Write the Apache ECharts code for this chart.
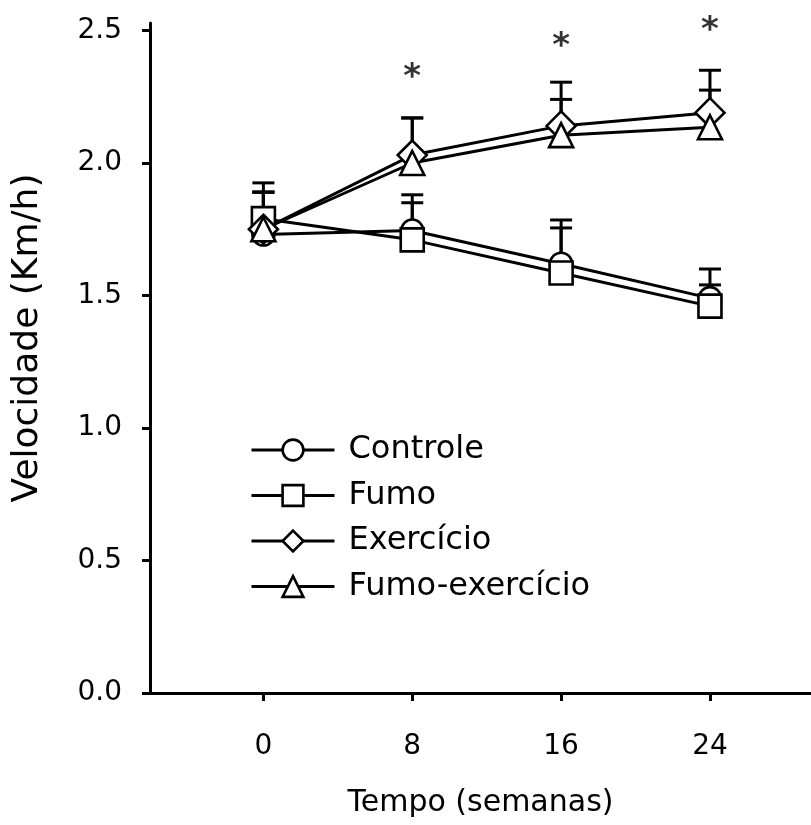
<!DOCTYPE html>
<html>
<head>
<meta charset="utf-8">
<script src="https://cdn.jsdelivr.net/npm/echarts@6/dist/echarts.min.js"></script>
<style>
  html, body { margin: 0; padding: 0; background: #fff; }
  #chart { width: 811px; height: 825px; }
</style>
</head>
<body>
<div id="chart"></div>
<script>
// Weeks of follow-up
const weeks = [0, 8, 16, 24];
const weekTicks = [0, 8, 16, 24];
const speedTicks = [0, 0.5, 1.0, 1.5, 2.0, 2.5];

// Mean treadmill speed (km/h) per group
const controle = [1.73, 1.745, 1.62, 1.49];
const fumo = [1.79, 1.71, 1.585, 1.46];
const exercicio = [1.75, 2.03, 2.14, 2.19];
const fumoExercicio = [1.75, 2.00, 2.105, 2.135];

// Upper error (standard error) per group
const controleErr = [0.16, 0.135, 0.165, 0.11];
const fumoErr = [0.135, 0.14, 0.17, 0.08];
const exercicioErr = [0.14, 0.14, 0.165, 0.16];
const fumoExercicioErr = [0.14, 0.17, 0.135, 0.14];

// Significance marks above the exercise groups
const signifWeeks = [8, 16, 24];
const signifLevel = [2.343, 2.46, 2.52];

const groups = [
  { name: 'Controle', values: controle, err: controleErr, symbol: 'circle', size: 22 },
  { name: 'Fumo', values: fumo, err: fumoErr, symbol: 'rect', size: 23 },
  { name: 'Exercício', values: exercicio, err: exercicioErr, symbol: 'diamond', size: 29 },
  { name: 'Fumo-exercício', values: fumoExercicio, err: fumoExercicioErr, symbol: 'triangle', size: 24 }
];

const FONT = 'DejaVu Sans';

function errorBarSeries(g) {
  return {
    type: 'custom',
    name: g.name + ' erro',
    z: 1,
    silent: true,
    data: weeks.map((w, i) => [w, g.values[i], g.values[i] + g.err[i]]),
    renderItem: function (params, api) {
      const base = api.coord([api.value(0), api.value(1)]);
      const top = api.coord([api.value(0), api.value(2)]);
      const half = 11;
      const st = { stroke: '#000', lineWidth: 3 };
      return {
        type: 'group',
        children: [
          { type: 'line', shape: { x1: base[0], y1: base[1], x2: top[0], y2: top[1] }, style: st },
          { type: 'line', shape: { x1: top[0] - half, y1: top[1], x2: top[0] + half, y2: top[1] }, style: st }
        ]
      };
    }
  };
}

function lineSeries(g) {
  return {
    type: 'line',
    name: g.name,
    z: 2,
    data: weeks.map((w, i) => [w, g.values[i]]),
    symbol: g.symbol,
    symbolSize: g.size,
    showAllSymbol: true,
    lineStyle: { color: '#000', width: 3 },
    itemStyle: { color: '#fff', borderColor: '#000', borderWidth: 2.6 },
    emphasis: { disabled: true },
    animation: false
  };
}

const series = [];
groups.forEach(g => series.push(errorBarSeries(g)));
groups.forEach(g => series.push(lineSeries(g)));
series.push({
  type: 'scatter',
  name: 'signif',
  z: 3,
  silent: true,
  symbolSize: 1,
  itemStyle: { color: 'rgba(0,0,0,0)' },
  data: signifWeeks.map((w, i) => [w, signifLevel[i]]),
  label: {
    show: true,
    position: 'inside',
    formatter: '*',
    color: '#000',
    fontFamily: FONT,
    fontWeight: 'bold',
    fontSize: 34,
    offset: [0, 6]
  }
});

const chart = echarts.init(document.getElementById('chart'), null, { renderer: 'canvas' });
chart.setOption({
  animation: false,
  backgroundColor: '#fff',
  grid: { left: 150, right: 0, top: 23, bottom: 132, outerBoundsMode: 'none' },
  legend: {
    orient: 'vertical',
    left: 245,
    top: 429,
    itemWidth: 83,
    itemHeight: 26,
    itemGap: 13.5,
    data: groups.map(g => g.name),
    selectedMode: false,
    lineStyle: { width: 3 },
    itemStyle: { borderWidth: 2.6 },
    textStyle: { color: '#000', fontFamily: FONT, fontSize: 32, lineHeight: 26, padding: [0, 0, 0, 9] }
  },
  xAxis: {
    type: 'value',
    min: -6.094,
    max: 29.43,
    name: 'Tempo (semanas)',
    nameLocation: 'middle',
    nameGap: 95,
    nameTextStyle: { color: '#000', fontFamily: FONT, fontSize: 30 },
    splitLine: { show: false },
    axisLine: { onZero: false, lineStyle: { color: '#000', width: 3 } },
    axisTick: { customValues: weekTicks, length: 8, lineStyle: { color: '#000', width: 3 } },
    axisLabel: { customValues: weekTicks, margin: 40, color: '#000', fontFamily: FONT, fontSize: 28 }
  },
  yAxis: {
    type: 'value',
    min: 0,
    max: 2.5283,
    name: 'Velocidade (Km/h)',
    nameLocation: 'middle',
    nameGap: 104,
    nameRotate: 90,
    nameTextStyle: { color: '#000', fontFamily: FONT, fontSize: 36, padding: [0, 0, 0, 40] },
    splitLine: { show: false },
    axisLine: { onZero: false, lineStyle: { color: '#000', width: 3 } },
    axisTick: { customValues: speedTicks, length: 8, lineStyle: { color: '#000', width: 3 } },
    axisLabel: {
      customValues: speedTicks,
      margin: 28,
      color: '#000',
      fontFamily: FONT,
      fontSize: 28,
      formatter: v => v.toFixed(1)
    }
  },
  series: series
});
</script>
</body>
</html>
